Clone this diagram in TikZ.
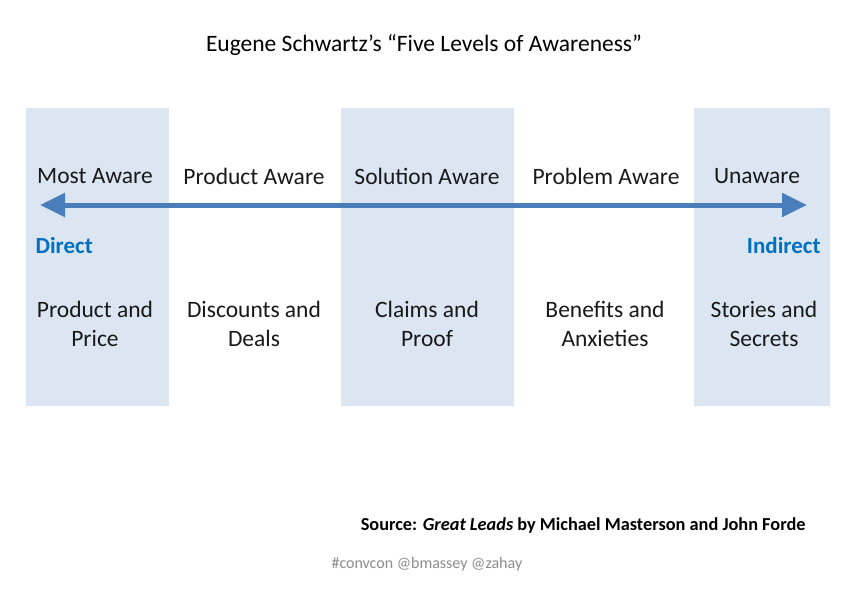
\documentclass[tikz,border=0pt]{standalone}
\usepackage{fontspec}
\setmainfont{Carlito}
\usetikzlibrary{arrows.meta}
\definecolor{boxblue}{HTML}{DCE6F2}
\definecolor{arrowblue}{HTML}{4A7EBB}
\definecolor{labelblue}{HTML}{0070C0}

\begin{document}
\begin{tikzpicture}[x=1pt,y=-1pt,
    level/.style={font=\fontsize{23.5}{28}\selectfont, text=black!90},
    tactic/.style={font=\fontsize{23.5}{29}\selectfont, align=center, text=black!90},
    reach/.style={font=\fontsize{23}{27}\selectfont\bfseries, text=labelblue},
    band/.style={fill=boxblue}]
  \useasboundingbox (0,0) rectangle (862,599);
  \fill[white] (0,0) rectangle (862,599);
  % shaded columns
  \fill[band] (26,108) rectangle (169,406);
  \fill[band] (341,108) rectangle (514,406);
  \fill[band] (694,108) rectangle (830,406);
  \node[font=\fontsize{23.5}{28}\selectfont] (title) at (424,45) {Eugene Schwartz’s “Five Levels of Awareness”};
  % awareness levels
  \node[level] (most) at (95,176) {Most Aware};
  \node[level] (product) at (254,176) {Product Aware};
  \node[level] (solution) at (427,176) {Solution Aware};
  \node[level] (problem) at (606,176) {Problem Aware};
  \node[level] (unaware) at (757,176) {Unaware};
  \coordinate (leftend) at (40,205);
  \coordinate (rightend) at (807,205);
  \draw[arrowblue, line width=5pt, {Triangle[length=25pt,width=23pt]}-{Triangle[length=25pt,width=23pt]}] (leftend) -- (rightend);
  \node[reach, anchor=west] (direct) at (32,246) {Direct};
  \node[reach, anchor=east] (indirect) at (824,246) {Indirect};
  % headline approaches
  \node[tactic] (price) at (95,324) {Product and\\Price};
  \node[tactic] (deals) at (254,324) {Discounts and\\Deals};
  \node[tactic] (proof) at (427,324) {Claims and\\Proof};
  \node[tactic] (anxiety) at (605,324) {Benefits and\\Anxieties};
  \node[tactic] (secrets) at (764,324) {Stories and\\Secrets};
  \node[font=\fontsize{18.3}{22}\selectfont\bfseries, anchor=east] (source) at (809,526) {Source: \textit{Great Leads} by Michael Masterson and John Forde};
  \node[font=\fontsize{16}{19}\selectfont, text=black!45, anchor=west] (tags) at (328,564) {\#convcon @bmassey @zahay};
\end{tikzpicture}
\end{document}
